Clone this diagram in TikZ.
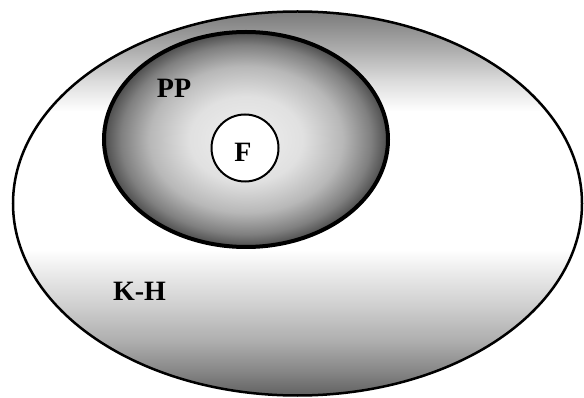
\documentclass[tikz,border=0pt]{standalone}
\usepackage{fontspec}
\setmainfont{Liberation Serif}
\usetikzlibrary{shapes.geometric}
\pgfdeclareverticalshading{khshade}{100bp}{%
  color(0bp)=(black!62);
  color(25bp)=(black!62);
  color(28bp)=(black!48);
  color(32bp)=(black!32);
  color(37bp)=(black!18);
  color(41bp)=(black!8);
  color(44bp)=(white);
  color(62bp)=(white);
  color(66bp)=(black!14);
  color(70bp)=(black!32);
  color(75bp)=(black!52);
  color(100bp)=(black!52)}
\pgfdeclareradialshading{ppshade}{\pgfpoint{0bp}{0bp}}{%
  color(0bp)=(black!6);
  color(10bp)=(black!12);
  color(17bp)=(black!28);
  color(22bp)=(black!50);
  color(25bp)=(black!70);
  color(50bp)=(black!70)}
\tikzset{
  region/.style={draw=black, ellipse, inner sep=0pt},
  lbl/.style={font=\fontsize{28}{28}\selectfont\bfseries, inner sep=0pt, text=black}
}
\begin{document}
\begin{tikzpicture}[x=1pt,y=-1pt]
\useasboundingbox (0,0) rectangle (584,398);
\node[region, line width=2.5pt, minimum width=569pt, minimum height=384pt, shading=khshade] (KH) at (297.5,203.5) {};
\node[region, line width=4pt, minimum width=284pt, minimum height=215pt, shading=ppshade] (PP) at (246,139.5) {};
\node[draw=black, circle, line width=2pt, minimum size=67pt, inner sep=0pt, fill=white] (F) at (245,148) {};
\node[lbl] (Ft) at (243,152.5) {F};
\node[lbl] (PPt) at (174,88.5) {PP};
\node[lbl] (KHt) at (139.5,291) {K-H};
\end{tikzpicture}
\end{document}
